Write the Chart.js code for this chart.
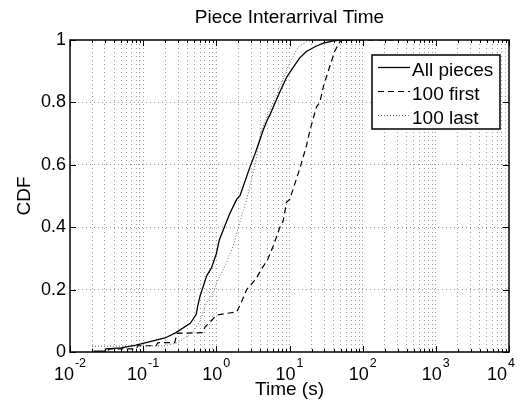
<!DOCTYPE html>
<html>
<head>
<script src="https://cdn.jsdelivr.net/npm/chart.js"></script>
<style>
  html, body { margin: 0; padding: 0; background: #fff; }
  canvas { display: block; }
</style>
</head>
<body>
<canvas id="cdfChart" width="531" height="408"></canvas>
<script>
// All pieces (solid)
const allTime = [0.021, 0.03, 0.031, 0.05, 0.08, 0.15, 0.2, 0.28, 0.44, 0.53, 0.56, 0.6, 0.74, 0.86, 1.0, 1.1, 1.24, 1.5, 1.9, 2.1, 2.9, 3.4, 4.4, 5.0, 5.4, 6.0, 7.4, 9.1, 10.2, 13.7, 17, 23, 29, 40, 50, 70];
const allCdf  = [0.003, 0.003, 0.01, 0.013, 0.022, 0.038, 0.045, 0.062, 0.092, 0.12, 0.15, 0.18, 0.245, 0.27, 0.315, 0.36, 0.39, 0.44, 0.49, 0.5, 0.595, 0.637, 0.713, 0.745, 0.76, 0.785, 0.834, 0.88, 0.898, 0.942, 0.963, 0.98, 0.99, 0.997, 1.0, 1.0];
// 100 first (dashed)
const firstTime = [0.033, 0.035, 0.08, 0.085, 0.15, 0.16, 0.27, 0.29, 0.65, 0.7, 0.82, 1.0, 1.5, 1.9, 2.2, 2.6, 3.5, 4.0, 5.0, 6.0, 7.4, 8.2, 9.1, 10.1, 13.7, 17, 19, 23.4, 26, 29, 35.5, 41.7, 49, 55, 300];
const firstCdf  = [0.005, 0.01, 0.01, 0.02, 0.02, 0.03, 0.03, 0.06, 0.062, 0.08, 0.096, 0.118, 0.125, 0.128, 0.16, 0.2, 0.235, 0.26, 0.295, 0.34, 0.4, 0.42, 0.48, 0.49, 0.585, 0.66, 0.71, 0.786, 0.80, 0.85, 0.915, 0.965, 0.995, 1.0, 1.0];
// 100 last (dotted)
const lastTime = [0.02, 0.2, 0.3, 0.39, 0.5, 0.6, 0.74, 0.91, 1.0, 1.4, 1.7, 2.0, 2.6, 3.4, 4.0, 5.0, 6.0, 8.0, 10.2, 13.2, 17, 25, 40];
const lastCdf  = [0.018, 0.02, 0.03, 0.048, 0.07, 0.10, 0.16, 0.188, 0.22, 0.29, 0.34, 0.40, 0.49, 0.60, 0.70, 0.76, 0.80, 0.87, 0.93, 0.978, 0.995, 1.0, 1.0];

const seriesNames = ['All pieces', '100 first', '100 last'];
const xDecades = [-2, -1, 0, 1, 2, 3, 4];
const yTickLabels = ['0', '0.2', '0.4', '0.6', '0.8', '1'];

const FONT = '"Liberation Sans", Arial, Helvetica, sans-serif';
const GRID = '#9a9a9a';

function pts(xs, ys) {
    return xs.map((t, i) => ({x: t, y: ys[i]}));
}

// inward tick marks, box, superscript x labels and MATLAB-like legend
const matlabFrame = {
    id: 'matlabFrame',
    afterDatasetsDraw(chart) {
        const {ctx, chartArea: a, scales: {x, y}} = chart;
        ctx.save();
        ctx.strokeStyle = '#000';
        ctx.lineWidth = 1;
        ctx.beginPath();
        x.ticks.forEach(t => {
            const px = Math.round(x.getPixelForValue(t.value)) + 0.5;
            const len = t.major ? 6 : 3;
            ctx.moveTo(px, a.bottom); ctx.lineTo(px, a.bottom - len);
            ctx.moveTo(px, a.top); ctx.lineTo(px, a.top + len);
        });
        y.ticks.forEach(t => {
            const py = Math.round(y.getPixelForValue(t.value)) + 0.5;
            ctx.moveTo(a.left, py); ctx.lineTo(a.left + 6, py);
            ctx.moveTo(a.right, py); ctx.lineTo(a.right - 6, py);
        });
        ctx.stroke();
        ctx.lineWidth = 1.5;
        ctx.strokeRect(a.left, a.top, a.right - a.left, a.bottom - a.top);

        // x tick labels 10^k
        ctx.fillStyle = '#000';
        ctx.textBaseline = 'alphabetic';
        ctx.textAlign = 'left';
        xDecades.forEach(k => {
            const px = x.getPixelForValue(Math.pow(10, k));
            const exp = String(k);
            ctx.font = '18px ' + FONT;
            const wBase = ctx.measureText('10').width;
            ctx.font = '12.5px ' + FONT;
            const wExp = ctx.measureText(exp).width;
            let start = px - (wBase + wExp + 1) / 2;
            start = Math.min(start, chart.width - 16 - (wBase + wExp + 1));
            ctx.font = '18px ' + FONT;
            ctx.fillText('10', start, 380);
            ctx.font = '12.5px ' + FONT;
            ctx.fillText(exp, start + wBase + 1, 367);
        });

        // legend
        const lx = 372, ly = 55, lw = 128, lh = 74;
        ctx.fillStyle = '#fff';
        ctx.fillRect(lx, ly, lw, lh);
        ctx.lineWidth = 1.5;
        ctx.strokeStyle = '#000';
        ctx.strokeRect(lx, ly, lw, lh);
        chart.data.datasets.forEach((ds, i) => {
            const base = 76 + 24 * i;
            ctx.beginPath();
            ctx.strokeStyle = ds.borderColor;
            ctx.lineWidth = ds.borderWidth;
            ctx.setLineDash(ds.borderDash || []);
            ctx.moveTo(378, base - 8.5);
            ctx.lineTo(410, base - 8.5);
            ctx.stroke();
            ctx.setLineDash([]);
            ctx.fillStyle = '#000';
            ctx.font = '19px ' + FONT;
            ctx.fillText(ds.label, 412, base);
        });
        ctx.restore();
    }
};

const ctx = document.getElementById('cdfChart').getContext('2d');
new Chart(ctx, {
    type: 'line',
    data: {
        datasets: [
            {
                label: seriesNames[0],
                data: pts(allTime, allCdf),
                borderColor: '#000',
                borderWidth: 1.3,
                borderDash: [],
                pointRadius: 0,
                tension: 0
            },
            {
                label: seriesNames[1],
                data: pts(firstTime, firstCdf),
                borderColor: '#000',
                borderWidth: 1.2,
                borderDash: [6, 4],
                pointRadius: 0,
                tension: 0
            },
            {
                label: seriesNames[2],
                data: pts(lastTime, lastCdf),
                borderColor: '#666',
                borderWidth: 1,
                borderDash: [1, 2],
                pointRadius: 0,
                tension: 0
            }
        ]
    },
    options: {
        responsive: false,
        animation: false,
        devicePixelRatio: 1,
        layout: { padding: { left: 0, right: 22, top: 0, bottom: 0 } },
        plugins: {
            legend: { display: false },
            tooltip: { enabled: false },
            title: {
                display: true,
                fullSize: false,
                text: 'Piece Interarrival Time',
                color: '#000',
                font: { family: FONT, size: 19, weight: 'normal' },
                padding: { top: 6.6, bottom: 10.6 }
            }
        },
        scales: {
            x: {
                type: 'logarithmic',
                min: 0.01,
                max: 10000,
                afterBuildTicks: scale => {
                    const ticks = [];
                    xDecades.forEach((k, i) => {
                        const top = i === xDecades.length - 1 ? 1 : 9;
                        for (let m = 1; m <= top; m++) {
                            ticks.push({value: m * Math.pow(10, k), major: m === 1});
                        }
                    });
                    scale.ticks = ticks;
                },
                afterFit: scale => { scale.height = 56; },
                ticks: { display: false },
                grid: {
                    drawTicks: false,
                    color: c => (c.tick && (c.tick.value <= 0.01 || c.tick.value >= 10000)) ? 'transparent' : GRID,
                    lineWidth: 1
                },
                border: { display: false, dash: [1, 3] },
                title: {
                    display: true,
                    text: 'Time (s)',
                    color: '#000',
                    font: { family: FONT, size: 19 },
                    padding: { top: 0, bottom: 7 }
                }
            },
            y: {
                type: 'linear',
                min: 0,
                max: 1,
                afterBuildTicks: scale => {
                    scale.ticks = yTickLabels.map(s => ({value: parseFloat(s)}));
                },
                afterFit: scale => { scale.width = 70; },
                ticks: {
                    color: '#000',
                    font: { family: FONT, size: 18 },
                    padding: 4,
                    callback: (v, i) => yTickLabels[i]
                },
                grid: {
                    drawTicks: false,
                    color: c => (c.tick && (c.tick.value === 0 || c.tick.value === 1)) ? 'transparent' : GRID,
                    lineWidth: 1
                },
                border: { display: false, dash: [1, 3] },
                title: {
                    display: true,
                    text: 'CDF',
                    color: '#000',
                    font: { family: FONT, size: 19 },
                    padding: { top: 13, bottom: 0 }
                }
            }
        }
    },
    plugins: [matlabFrame]
});
</script>
</body>
</html>
